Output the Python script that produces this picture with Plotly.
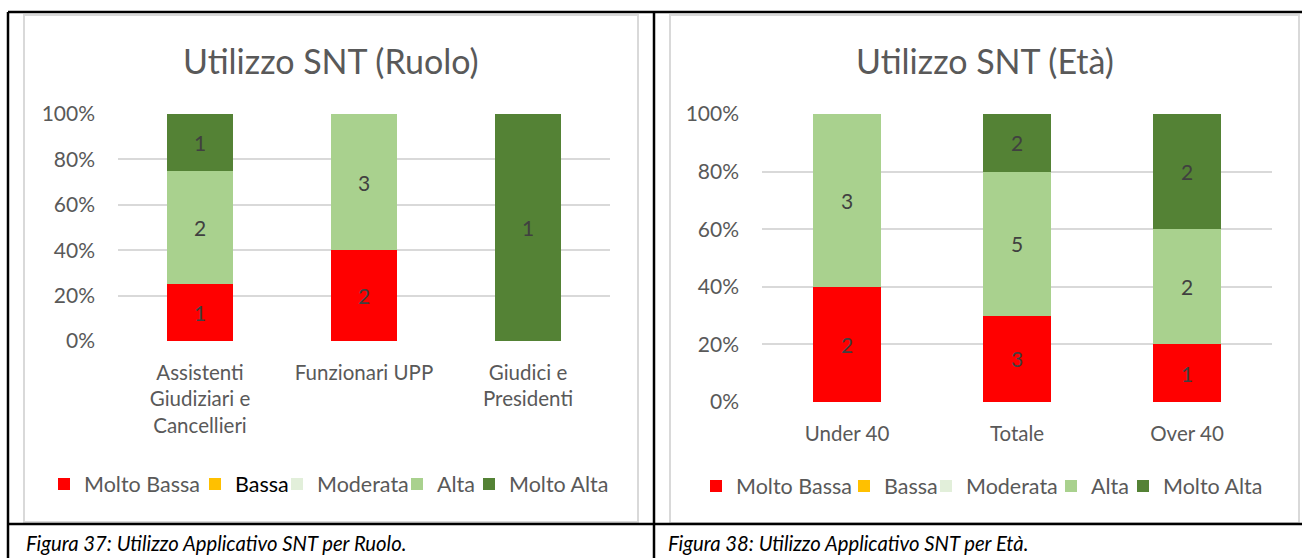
import plotly.graph_objects as go

W, H = 1302, 558

# ---------------- data ----------------
levels = ["Molto Bassa", "Bassa", "Moderata", "Alta", "Molto Alta"]
level_colors = ["#FF0000", "#FFC000", "#E2EFDA", "#A9D18E", "#548235"]

ruolo_categories = ["Assistenti<br>Giudiziari e<br>Cancellieri", "Funzionari UPP", "Giudici e<br>Presidenti"]
ruolo_molto_bassa = [1, 2, 0]
ruolo_bassa = [0, 0, 0]
ruolo_moderata = [0, 0, 0]
ruolo_alta = [2, 3, 0]
ruolo_molto_alta = [1, 0, 1]

eta_categories = ["Under 40", "Totale", "Over 40"]
eta_molto_bassa = [2, 3, 1]
eta_bassa = [0, 0, 0]
eta_moderata = [0, 0, 0]
eta_alta = [3, 5, 2]
eta_molto_alta = [0, 2, 2]

y_ticks = [0, 20, 40, 60, 80, 100]
y_tick_labels = ["0%", "20%", "40%", "60%", "80%", "100%"]

title_ruolo = "Utilizzo SNT (Ruolo)"
title_eta = "Utilizzo SNT (Età)"
caption_ruolo = "Figura 37: Utilizzo Applicativo SNT per Ruolo."
caption_eta = "Figura 38: Utilizzo Applicativo SNT per Età."

# ---------------- layout helpers ----------------
def X(px):
    return px / W

def Y(py):
    return 1 - py / H

FONT = "Lato"
GREY_TXT = "#595959"
LABEL_TXT = "#404040"

# legend text left positions (px) for each item
legend_text_left_ruolo = [81, 232, 314, 434, 506]
legend_text_left_eta = [733, 881, 963, 1088, 1160]
legend_font_colors_ruolo = [GREY_TXT, "#000000", GREY_TXT, GREY_TXT, GREY_TXT]
legend_font_colors_eta = [GREY_TXT] * 5

fig = go.Figure()

ruolo_series = [ruolo_molto_bassa, ruolo_bassa, ruolo_moderata, ruolo_alta, ruolo_molto_alta]
eta_series = [eta_molto_bassa, eta_bassa, eta_moderata, eta_alta, eta_molto_alta]

for i, (name, color, vals) in enumerate(zip(levels, level_colors, ruolo_series)):
    fig.add_trace(go.Bar(
        x=ruolo_categories, y=vals, name=name, marker_color=color,
        marker_line_width=0,
        text=[str(v) if v else "" for v in vals],
        textposition="inside", insidetextanchor="middle", textangle=0,
        textfont=dict(family=FONT, size=21, color=LABEL_TXT),
        xaxis="x", yaxis="y",
        legend="legend" if i == 0 else f"legend{i + 1}",
    ))

for i, (name, color, vals) in enumerate(zip(levels, level_colors, eta_series)):
    fig.add_trace(go.Bar(
        x=eta_categories, y=vals, name=name, marker_color=color,
        marker_line_width=0,
        text=[str(v) if v else "" for v in vals],
        textposition="inside", insidetextanchor="middle", textangle=0,
        textfont=dict(family=FONT, size=21, color=LABEL_TXT),
        xaxis="x2", yaxis="y2",
        legend=f"legend{i + 6}",
    ))

legends = {}
for i, (tl, fc) in enumerate(zip(legend_text_left_ruolo + legend_text_left_eta,
                                  legend_font_colors_ruolo + legend_font_colors_eta)):
    key = "legend" if i == 0 else f"legend{i + 1}"
    ypix = 484 if i < 5 else 486
    legends[key] = dict(
        orientation="h", x=X(tl - 37), xanchor="left", y=Y(ypix), yanchor="middle",
        bgcolor="rgba(0,0,0,0)", borderwidth=0, itemwidth=30,
        font=dict(family=FONT, size=21.5, color=fc),
        itemclick=False, itemdoubleclick=False,
    )

axis_common_y = dict(
    range=[0, 100], tickmode="array", tickvals=y_ticks, ticktext=y_tick_labels,
    showgrid=True, gridcolor="#D9D9D9", gridwidth=1.5,
    zeroline=False, showline=False, ticks="",
    tickfont=dict(family=FONT, size=21, color=GREY_TXT),
    ticklabelstandoff=22, fixedrange=True, automargin=False,
)
axis_common_x = dict(
    showgrid=False, zeroline=False, showline=False, ticks="",
    tickfont=dict(family=FONT, size=20.5, color=GREY_TXT),
    fixedrange=True, tickangle=0, ticklabelstandoff=17, automargin=False,
)

shapes = []
# grey chart boxes
shapes.append(dict(type="rect", xref="paper", yref="paper", x0=X(24), x1=X(638), y0=Y(522), y1=Y(15),
                   line=dict(color="#D9D9D9", width=2), fillcolor="rgba(0,0,0,0)", layer="below"))
shapes.append(dict(type="rect", xref="paper", yref="paper", x0=X(670), x1=X(1299), y0=Y(523), y1=Y(15),
                   line=dict(color="#D9D9D9", width=2), fillcolor="rgba(0,0,0,0)", layer="below"))
# black table frame
for (x0, y0, x1, y1) in [(8, 12, 1302, 12), (8, 12, 8, 558), (654, 12, 654, 558), (8, 524, 1302, 524)]:
    shapes.append(dict(type="line", xref="paper", yref="paper", x0=X(x0), x1=X(x1), y0=Y(y0), y1=Y(y1),
                       line=dict(color="#000000", width=2.5)))

annotations = [
    dict(text=title_ruolo, x=X(331), y=Y(60), xref="paper", yref="paper", showarrow=False,
         xanchor="center", yanchor="middle", font=dict(family=FONT, size=34, color=GREY_TXT)),
    dict(text=title_eta, x=X(985), y=Y(60), xref="paper", yref="paper", showarrow=False,
         xanchor="center", yanchor="middle", font=dict(family=FONT, size=34, color=GREY_TXT)),
    dict(text="<i>" + caption_ruolo + "</i>", x=X(24), y=Y(543), xref="paper", yref="paper", showarrow=False,
         xanchor="left", yanchor="middle", font=dict(family=FONT, size=20.3, color="#000000")),
    dict(text="<i>" + caption_eta + "</i>", x=X(666), y=Y(543), xref="paper", yref="paper", showarrow=False,
         xanchor="left", yanchor="middle", font=dict(family=FONT, size=20.3, color="#000000")),
]

fig.update_layout(
    width=W, height=H, autosize=False,
    margin=dict(l=0, r=0, t=0, b=0, pad=0, autoexpand=False),
    paper_bgcolor="white", plot_bgcolor="white",
    barmode="stack", barnorm="percent", bargap=0.6,
    xaxis=dict(domain=[X(118), X(610)], anchor="y", **axis_common_x),
    yaxis=dict(domain=[Y(341), Y(114)], anchor="x", **axis_common_y),
    xaxis2=dict(domain=[X(762), X(1272)], anchor="y2", **axis_common_x),
    yaxis2=dict(domain=[Y(402), Y(114)], anchor="x2", **axis_common_y),
    shapes=shapes, annotations=annotations,
    showlegend=True,
    **legends,
)

fig.write_html(
    "out.html",
    config={"displayModeBar": False},
    post_script="document.body.style.margin='0';document.body.style.overflow='hidden';",
)
